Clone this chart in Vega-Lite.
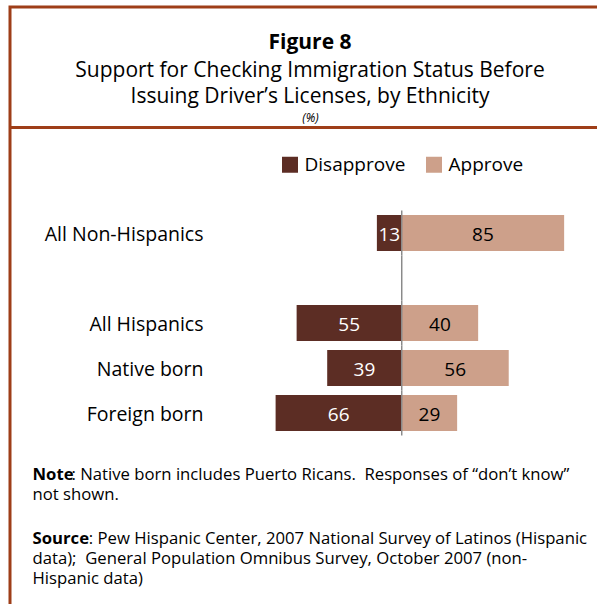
{
  "$schema": "https://vega.github.io/schema/vega-lite/v6.json",
  "width": 600,
  "height": 600,
  "autosize": {"type": "none"},
  "padding": {"left": 10, "top": 7, "right": 0, "bottom": 0},
  "background": "white",
  "config": {
    "view": {"stroke": "#9e3e18", "strokeWidth": 3},
    "font": "Open Sans",
    "axis": {"labelFont": "Open Sans", "titleFont": "Open Sans"},
    "legend": {"labelFont": "Open Sans"},
    "title": {"font": "Open Sans", "subtitleFont": "Open Sans"}
  },
  "title": {
    "text": "Figure 8",
    "subtitle": ["Support for Checking Immigration Status Before", "Issuing Driver’s Licenses, by Ethnicity"],
    "anchor": "middle",
    "frame": "group",
    "orient": "top",
    "offset": -100,
    "fontSize": 21,
    "fontWeight": "bold",
    "color": "black",
    "subtitleFontSize": 21,
    "subtitleColor": "black",
    "subtitleLineHeight": 26,
    "subtitlePadding": 7
  },
  "datasets": {
    "survey": [
      {"group": "All Non-Hispanics", "response": "Disapprove", "pct": 13, "value": -13},
      {"group": "All Non-Hispanics", "response": "Approve", "pct": 85, "value": 85},
      {"group": "All Hispanics", "response": "Disapprove", "pct": 55, "value": -55},
      {"group": "All Hispanics", "response": "Approve", "pct": 40, "value": 40},
      {"group": "Native born", "response": "Disapprove", "pct": 39, "value": -39},
      {"group": "Native born", "response": "Approve", "pct": 56, "value": 56},
      {"group": "Foreign born", "response": "Disapprove", "pct": 66, "value": -66},
      {"group": "Foreign born", "response": "Approve", "pct": 29, "value": 29}
    ],
    "rows": [
      {"group": "All Non-Hispanics"},
      {"group": " "},
      {"group": "All Hispanics"},
      {"group": "Native born"},
      {"group": "Foreign born"}
    ]
  },
  "layer": [
    {
      "data": {"name": "survey"},
      "encoding": {
        "y": {
          "field": "group",
          "type": "nominal",
          "scale": {
            "domain": ["All Non-Hispanics", " ", "All Hispanics", "Native born", "Foreign born"],
            "range": [203.5, 428.5],
            "paddingInner": 0.2,
            "paddingOuter": 0.1
          },
          "axis": {
            "orient": "left",
            "offset": -193,
            "domain": false,
            "ticks": false,
            "tickSize": 0,
            "labelPadding": 0,
            "labelOffset": 2,
            "labelFontSize": 19.5,
            "labelColor": "black",
            "labelLimit": 0,
            "title": ["\u2060\u00a0\u00a0\u00a0\u00a0\u00a0\u00a0\u00a0\u00a0\u00a0: Native born includes Puerto Ricans.\u00a0 Responses of “don’t know”", "not shown."],
            "titleAngle": 0,
            "titleX": -171,
            "titleY": 472,
            "titleAlign": "left",
            "titleBaseline": "alphabetic",
            "titleFontSize": 16.7,
            "titleFontWeight": "normal",
            "titleColor": "black",
            "titleLineHeight": 20
          }
        }
      },
      "layer": [
        {
          "mark": {"type": "bar"},
          "encoding": {
            "x": {
              "field": "value",
              "type": "quantitative",
              "stack": "zero",
              "scale": {"domain": [-205, 109], "nice": false, "zero": false},
              "axis": {
                "orient": "top",
                "offset": -120,
                "domain": true,
                "domainColor": "#9e3e18",
                "domainWidth": 3,
                "ticks": false,
                "labels": false,
                "grid": false,
                "title": "(%)",
                "titleFontStyle": "italic",
                "titleFontSize": 12,
                "titleFontWeight": "normal",
                "titlePadding": 3,
                "titleColor": "black"
              }
            },
            "color": {
              "field": "response",
              "type": "nominal",
              "scale": {"domain": ["Disapprove", "Approve"], "range": ["#5c2d24", "#cda08a"]},
              "legend": {
                "orient": "none",
                "direction": "horizontal",
                "legendX": 270.5,
                "legendY": 148,
                "title": null,
                "padding": 0,
                "symbolType": "square",
                "symbolSize": 256,
                "symbolStrokeWidth": 0,
                "symbolOpacity": 1,
                "labelFontSize": 19,
                "labelColor": "black",
                "labelOffset": 5,
                "columnPadding": 19
              }
            }
          }
        },
        {
          "mark": {"type": "text", "fontSize": 19, "align": "center", "baseline": "middle", "dy": 2},
          "encoding": {
            "x": {
              "field": "value",
              "type": "quantitative",
              "stack": "zero",
              "bandPosition": 0.5,
              "scale": {"domain": [-205, 109], "nice": false, "zero": false},
              "axis": {
                "orient": "top",
                "offset": -120,
                "domain": true,
                "domainColor": "#9e3e18",
                "domainWidth": 3,
                "ticks": false,
                "labels": false,
                "grid": false,
                "title": "(%)",
                "titleFontStyle": "italic",
                "titleFontSize": 12,
                "titleFontWeight": "normal",
                "titlePadding": 3,
                "titleColor": "black"
              }
            },
            "detail": {"field": "response", "type": "nominal"},
            "text": {"field": "pct", "type": "quantitative"},
            "color": {
              "condition": {"test": "datum.response === 'Disapprove'", "value": "white"},
              "value": "black"
            }
          }
        }
      ]
    },
    {
      "data": {"name": "rows"},
      "mark": {"type": "tick", "size": 45, "thickness": 1.5, "color": "#8a8a8a", "opacity": 1},
      "encoding": {
        "x": {
          "datum": 0,
          "type": "quantitative",
          "scale": {"domain": [-205, 109], "nice": false, "zero": false},
          "axis": {
            "orient": "bottom",
            "domain": false,
            "ticks": false,
            "labels": false,
            "grid": false,
            "title": ["Note", "Source"],
            "titleX": 22,
            "titleY": -128,
            "titleAlign": "left",
            "titleAnchor": "start",
            "titleBaseline": "alphabetic",
            "titleFontSize": 16.7,
            "titleFontWeight": "bold",
            "titleColor": "black",
            "titleLineHeight": 64
          }
        },
        "y": {
          "field": "group",
          "type": "nominal",
          "scale": {
            "domain": ["All Non-Hispanics", " ", "All Hispanics", "Native born", "Foreign born"],
            "range": [203.5, 428.5],
            "paddingInner": 0.2,
            "paddingOuter": 0.1
          },
          "axis": {
            "orient": "right",
            "domain": false,
            "ticks": false,
            "labels": false,
            "grid": false,
            "title": ["\u2060\u00a0\u00a0\u00a0\u00a0\u00a0\u00a0\u00a0\u00a0\u00a0\u00a0\u00a0\u00a0\u00a0: Pew Hispanic Center, 2007 National Survey of Latinos (Hispanic", "data);\u00a0 General Population Omnibus Survey, October 2007 (non-", "Hispanic data)"],
            "titleAngle": 0,
            "titleX": -578,
            "titleY": 536,
            "titleAlign": "left",
            "titleBaseline": "alphabetic",
            "titleFontSize": 16.7,
            "titleFontWeight": "normal",
            "titleColor": "black",
            "titleLineHeight": 20
          }
        }
      }
    }
  ],
  "resolve": {
    "scale": {"x": "independent", "y": "independent"},
    "axis": {"x": "independent", "y": "independent"}
  }
}
